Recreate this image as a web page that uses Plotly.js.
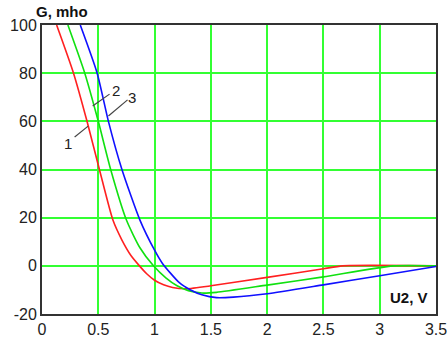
<!DOCTYPE html>
<html><head><meta charset="utf-8">
<script src="https://cdn.plot.ly/plotly-3.0.1.min.js"></script>
<style>html,body{margin:0;padding:0;background:#fff}</style>
</head><body><div id="chart" style="width:447px;height:344px"></div>
<script>
// Curve 1 (red)
const x1 = [0.13, 0.28, 0.40, 0.51, 0.63, 0.71, 0.79, 0.86, 0.93, 1.0, 1.08, 1.16, 1.28, 1.5, 2.0, 2.5, 2.67, 3.5];
const y1 = [100, 80, 60, 40, 19, 10.7, 4.3, 0.3, -3.3, -6, -7.9, -9, -9.5, -8.3, -4.8, -1.2, 0, 0];
// Curve 2 (green)
const x2 = [0.23, 0.38, 0.50, 0.61, 0.75, 0.87, 0.99, 1.1, 1.2, 1.3, 1.42, 1.55, 2.0, 2.5, 3.12, 3.5];
const y2 = [100, 80, 60, 40, 19, 7.5, 0, -5, -8.3, -10.3, -11.3, -11.0, -8.0, -4.6, 0, 0];
// Curve 3 (blue)
const x3 = [0.34, 0.49, 0.59, 0.71, 0.87, 1.0, 1.07, 1.22, 1.32, 1.42, 1.55, 1.7, 2.0, 2.5, 3.0, 3.5];
const y3 = [100, 80, 60, 40, 19, 6.5, 1, -7, -10, -12, -13.2, -13, -11.6, -7.9, -4.1, -0.3];
// Curve labels and leader lines
const labelText = ["1", "2", "3"];
const labelX = [0.23, 0.66, 0.80];
const labelY = [51, 73, 70];
const leadX0 = [0.29, 0.45, 0.59];
const leadY0 = [53.5, 66.4, 62.2];
const leadX1 = [0.41, 0.60, 0.76];
const leadY1 = [58, 71.3, 68.9];
const xTicks = [0, 0.5, 1, 1.5, 2, 2.5, 3, 3.5];
const yTicks = [-20, 0, 20, 40, 60, 80, 100];

const lw = 1.6;
const sm = 0.6;
const traces = [
  {x: x1, y: y1, mode: 'lines', line: {color: '#ff2020', width: lw, shape: 'spline', smoothing: sm}},
  {x: x2, y: y2, mode: 'lines', line: {color: '#10e010', width: lw, shape: 'spline', smoothing: sm}},
  {x: x3, y: y3, mode: 'lines', line: {color: '#1010ff', width: lw, shape: 'spline', smoothing: sm}}
];
const shapes = leadX0.map((v, i) => ({type: 'line', xref: 'x', yref: 'y', x0: v, y0: leadY0[i], x1: leadX1[i], y1: leadY1[i], line: {color: '#444', width: 1.2}}));
const annotations = labelText.map((t, i) => ({x: labelX[i], y: labelY[i], xref: 'x', yref: 'y', text: t, showarrow: false, font: {family: 'Liberation Sans, Arial', size: 15, color: '#222'}}));
annotations.push({xref: 'paper', yref: 'paper', x: 0.05, y: 1, xanchor: 'center', yanchor: 'bottom', yshift: 3, text: '<b>G, mho</b>', showarrow: false, font: {family: 'Liberation Sans, Arial', size: 15, color: '#111'}});
annotations.push({xref: 'paper', yref: 'paper', x: 0.985, y: 0.02, xanchor: 'right', yanchor: 'bottom', text: '<b>U2, V</b>', showarrow: false, font: {family: 'Liberation Sans, Arial', size: 15, color: '#111'}});

const axisCommon = {showgrid: true, gridcolor: '#33ff33', gridwidth: 2, zeroline: false, showline: true, linecolor: '#333', linewidth: 2, mirror: true, ticks: '', ticklabeloverflow: 'allow', tickfont: {family: 'Liberation Sans, Arial', size: 16, color: '#222'}};
const layout = {
  width: 447, height: 344,
  margin: {l: 42, r: 11, t: 25, b: 30},
  paper_bgcolor: '#fff', plot_bgcolor: '#fff',
  showlegend: false,
  xaxis: Object.assign({}, axisCommon, {range: [0, 3.5], tickvals: xTicks, ticktext: xTicks.map(String)}),
  yaxis: Object.assign({}, axisCommon, {range: [-20, 100], tickvals: yTicks, ticktext: yTicks.map(String)}),
  shapes: shapes,
  annotations: annotations
};
Plotly.newPlot('chart', traces, layout, {displayModeBar: false, staticPlot: true});
</script></body></html>
